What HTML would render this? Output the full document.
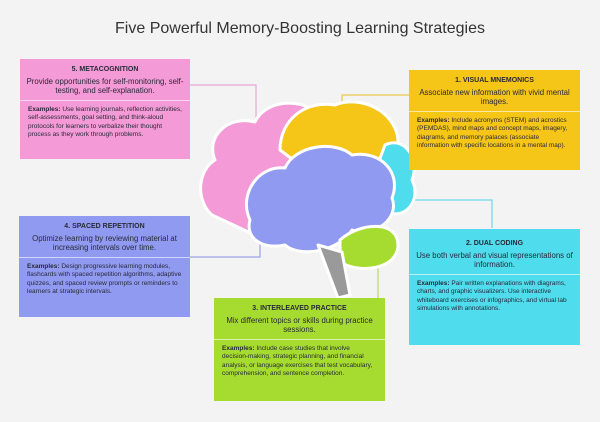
<!DOCTYPE html>
<html><head><meta charset="utf-8"><style>
body{margin:0;width:600px;height:422px;background:#f3f3f3;font-family:"Liberation Sans",sans-serif;position:relative;overflow:hidden;color:#2a2a3a}
.t{position:absolute;top:20px;left:0;width:600px;text-align:center;font-size:16px;color:#333}
.b{position:absolute;box-sizing:border-box;font-size:6.5px;line-height:1.3}
.h{text-align:center;padding:6px 6px 4px}
.h b{display:block;font-size:7px;margin-bottom:3px}
.h span{font-size:7.8px;line-height:1.2;display:block}
.e{border-top:1.5px solid rgba(255,255,255,.6);padding:5px 8px}
svg{position:absolute;left:0;top:0}
</style></head><body>
<div class="t">Five Powerful Memory-Boosting Learning Strategies</div>
<svg width="600" height="422">
<g fill="none" stroke-width="1.2">
<polyline points="190,85 256,85 256,122" stroke="#e9a6d6"/>
<polyline points="409,95 342,95 342,118" stroke="#e8c84a"/>
<polyline points="190,257 260,257 260,240" stroke="#9aa2e6"/>
<polyline points="492,228 492,200 405,200" stroke="#6fd8e6"/>
<polyline points="378,298 378,260 362,260" stroke="#b8dc5a"/>
</g>
<g stroke="#fff" stroke-width="3" stroke-linejoin="round">
<path d="M212,215 C195,200 198,170 215,160 C205,135 230,115 255,122 C265,100 300,98 315,112 L330,130 L300,160 L265,185 L255,235 Z" fill="#f49ad6"/>
<path d="M280,150 C280,120 305,100 335,105 C360,95 395,110 398,140 L395,175 L350,170 L300,165 Z" fill="#f5c518"/>
<path d="M385,145 C405,135 420,160 412,180 C422,200 405,220 388,212 L370,185 Z" fill="#4fdcec"/>
<path d="M250,220 C238,195 258,165 285,168 C295,145 335,140 352,155 C380,150 402,172 392,198 C400,218 375,238 352,230 C338,252 300,258 285,245 C262,250 245,238 250,220 Z" fill="#8f9af0"/>
<path d="M340,240 C360,222 398,220 398,245 C398,268 362,275 340,262 Z" fill="#a6dc30"/>
<path d="M318,245 L342,252 L350,295 L338,298 Z" fill="#9a9a9a"/>
</g>
</svg>
<div class="b" style="left:20px;top:59px;width:170px;height:100px;background:#f49ad6"><div class="h"><b>5. METACOGNITION</b><span>Provide opportunities for self-monitoring, self-testing, and self-explanation.</span></div><div class="e"><b>Examples:</b> Use learning journals, reflection activities, self-assessments, goal setting, and think-aloud protocols for learners to verbalize their thought process as they work through problems.</div></div>
<div class="b" style="left:409px;top:70px;width:171px;height:100px;background:#f5c518"><div class="h"><b>1. VISUAL MNEMONICS</b><span>Associate new information with vivid mental images.</span></div><div class="e"><b>Examples:</b> Include acronyms (STEM) and acrostics (PEMDAS), mind maps and concept maps, imagery, diagrams, and memory palaces (associate information with specific locations in a mental map).</div></div>
<div class="b" style="left:19px;top:216px;width:171px;height:101px;background:#8f9af0"><div class="h"><b>4. SPACED REPETITION</b><span>Optimize learning by reviewing material at increasing intervals over time.</span></div><div class="e"><b>Examples:</b> Design progressive learning modules, flashcards with spaced repetition algorithms, adaptive quizzes, and spaced review prompts or reminders to learners at strategic intervals.</div></div>
<div class="b" style="left:409px;top:229px;width:171px;height:116px;background:#4fdcec"><div class="h" style="padding-top:10px"><b>2. DUAL CODING</b><span>Use both verbal and visual representations of information.</span></div><div class="e"><b>Examples:</b> Pair written explanations with diagrams, charts, and graphic visualizers. Use interactive whiteboard exercises or infographics, and virtual lab simulations with annotations.</div></div>
<div class="b" style="left:214px;top:298px;width:171px;height:103px;background:#a6dc30"><div class="h"><b>3. INTERLEAVED PRACTICE</b><span>Mix different topics or skills during practice sessions.</span></div><div class="e"><b>Examples:</b> Include case studies that involve decision-making, strategic planning, and financial analysis, or language exercises that test vocabulary, comprehension, and sentence completion.</div></div>
</body></html>
